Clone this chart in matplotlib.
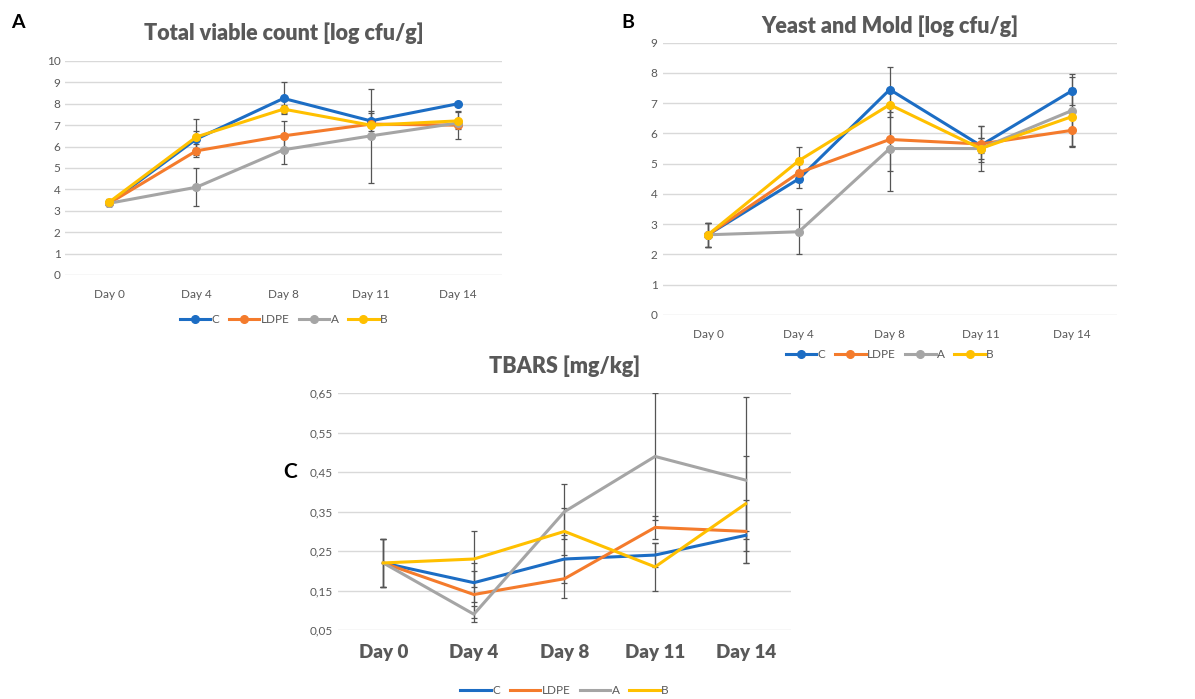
import matplotlib.pyplot as plt
from matplotlib.ticker import FuncFormatter

days = ['Day 0', 'Day 4', 'Day 8', 'Day 11', 'Day 14']
series = ['C', 'LDPE', 'A', 'B']
colors = ['#1C6DC4', '#F47B2C', '#A5A5A5', '#FFC000']

# Total viable count [log cfu/g]
tvc_C = [3.35, 6.35, 8.25, 7.2, 8.0]
tvc_LDPE = [3.35, 5.8, 6.5, 7.05, 7.0]
tvc_A = [3.35, 4.1, 5.85, 6.5, 7.1]
tvc_B = [3.4, 6.45, 7.75, 7.0, 7.2]
tvc_err_C = [0.15, 0.4, 0.75, 0.45, 0.0]
tvc_err_LDPE = [0.15, 0.3, 0.7, 0.5, 0.65]
tvc_err_A = [0.15, 0.9, 0.65, 2.2, 0.1]
tvc_err_B = [0.15, 0.85, 0.2, 0.1, 0.4]

# Yeast and Mold [log cfu/g]
ym_C = [2.65, 4.5, 7.45, 5.6, 7.4]
ym_LDPE = [2.65, 4.7, 5.8, 5.65, 6.1]
ym_A = [2.65, 2.75, 5.5, 5.5, 6.75]
ym_B = [2.65, 5.1, 6.95, 5.5, 6.55]
ym_err_C = [0.4, 0.3, 0.75, 0.25, 0.45]
ym_err_LDPE = [0.4, 0.3, 1.05, 0.6, 0.5]
ym_err_A = [0.4, 0.75, 1.4, 0.35, 1.2]
ym_err_B = [0.4, 0.45, 0.4, 0.75, 0.95]

# TBARS [mg/kg]
tb_C = [0.22, 0.17, 0.23, 0.24, 0.29]
tb_LDPE = [0.22, 0.14, 0.18, 0.31, 0.30]
tb_A = [0.22, 0.09, 0.35, 0.49, 0.43]
tb_B = [0.22, 0.23, 0.30, 0.21, 0.37]
tb_err_C = [0.06, 0.05, 0.06, 0.03, 0.01]
tb_err_LDPE = [0.06, 0.06, 0.05, 0.03, 0.08]
tb_err_A = [0.06, 0.02, 0.07, 0.16, 0.21]
tb_err_B = [0.06, 0.07, 0.06, 0.06, 0.12]

plt.rcParams['font.family'] = ['Lato', 'DejaVu Sans']
grid_col = '#D9D9D9'
txt_col = '#595959'

fig = plt.figure(figsize=(11.95, 6.99), dpi=100)


def panel(rect, data, errs, ylim, yticks, title, title_y, markers=True,
          xlab_size=8.5, xlab_bold=False, fmt=None, leg_y=-0.2):
    ax = fig.add_axes(rect)
    x = list(range(len(days)))
    for name, col, vals, err in zip(series, colors, data, errs):
        ax.errorbar(x, vals, yerr=err, fmt='none', ecolor='#555555',
                    elinewidth=0.9, capsize=2.5, capthick=0.9, zorder=2)
        ax.plot(x, vals, color=col, lw=2.2, label=name, zorder=3,
                marker='o' if markers else None, markersize=5.5)
    ax.set_xlim(-0.5, len(days) - 0.5)
    ax.set_ylim(*ylim)
    ax.set_yticks(yticks)
    if fmt:
        ax.yaxis.set_major_formatter(FuncFormatter(fmt))
    ax.set_xticks(x)
    ax.set_xticklabels(days, fontsize=xlab_size,
                       fontweight='heavy' if xlab_bold else 'normal')
    ax.tick_params(axis='both', length=0, colors=txt_col, labelsize=8.5)
    ax.tick_params(axis='x', labelsize=xlab_size, pad=10)
    for s in ax.spines.values():
        s.set_visible(False)
    ax.grid(axis='y', color=grid_col, lw=1)
    ax.set_axisbelow(True)
    ax.set_title(title, fontsize=15.5, fontweight='heavy', color=txt_col,
                 y=title_y)
    ax.legend(loc='center', bbox_to_anchor=(0.5, leg_y), ncol=4,
              frameon=False, fontsize=8.5, handlelength=2.6,
              handletextpad=0.1, columnspacing=0.8, labelcolor=txt_col)
    return ax


panel([0.0548, 0.6066, 0.3649, 0.3062],
      [tvc_C, tvc_LDPE, tvc_A, tvc_B],
      [tvc_err_C, tvc_err_LDPE, tvc_err_A, tvc_err_B],
      (0, 10), range(0, 11), 'Total viable count [log cfu/g]', 1.06,
      leg_y=-0.21)

panel([0.5544, 0.5494, 0.3803, 0.3896],
      [ym_C, ym_LDPE, ym_A, ym_B],
      [ym_err_C, ym_err_LDPE, ym_err_A, ym_err_B],
      (0, 9), range(0, 10), 'Yeast and Mold [log cfu/g]', 1.005,
      leg_y=-0.145)

panel([0.2828, 0.0987, 0.3791, 0.3386],
      [tb_C, tb_LDPE, tb_A, tb_B],
      [tb_err_C, tb_err_LDPE, tb_err_A, tb_err_B],
      (0.05, 0.65), [0.05, 0.15, 0.25, 0.35, 0.45, 0.55, 0.65],
      'TBARS [mg/kg]', 1.05, markers=False, xlab_size=13.5, xlab_bold=True,
      fmt=lambda v, p: f'{v:.2f}'.replace('.', ','), leg_y=-0.255)

fig.text(18 / 1195, 1 - 22 / 699, 'A', fontsize=14, fontweight='bold',
         ha='center', va='center')
fig.text(628 / 1195, 1 - 22 / 699, 'B', fontsize=14, fontweight='bold',
         ha='center', va='center')
fig.text(290 / 1195, 1 - 472 / 699, 'C', fontsize=15, fontweight='bold',
         ha='center', va='center')

fig.savefig('out.png', dpi=100)
